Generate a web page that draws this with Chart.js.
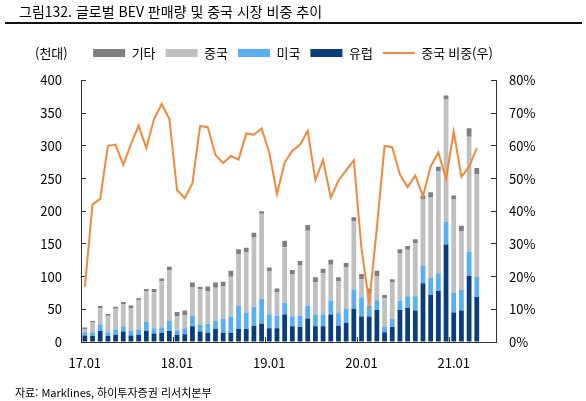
<!DOCTYPE html>
<html lang="ko">
<head>
<meta charset="utf-8">
<title>글로벌 BEV 판매량 및 중국 시장 비중 추이</title>
<script src="https://cdn.jsdelivr.net/npm/chart.js@4"></script>
<style>
  html, body { margin: 0; padding: 0; background: #fff; }
  body { font-family: 'Noto Sans CJK KR', sans-serif; color: #000; }
  #wrap { position: relative; width: 586px; height: 401px; overflow: hidden; }
  #chart { position: absolute; left: 0; top: 0; }
  .title { position: absolute; left: 19px; top: 3px; font-size: 14px; line-height: 17px; }
  .rule { position: absolute; left: 5px; top: 22px; width: 577px; height: 2px; background: #111; }
  .unit { position: absolute; left: 35px; top: 45px; font-size: 13px; line-height: 16px; }
  .source { position: absolute; left: 15px; top: 385px; font-size: 11px; line-height: 14px; }
</style>
</head>
<body>
<div id="wrap">
  <canvas id="chart" width="586" height="401"></canvas>
  <div class="title">그림132. 글로벌 BEV 판매량 및 중국 시장 비중 추이</div>
  <div class="rule"></div>
  <div class="unit">(천대)</div>
  <div class="source">자료: Marklines, 하이투자증권 리서치본부</div>
</div>
<script>
// months 17.01 ~ 21.06 (last two months have no data yet)
const months = [
  '17.01','17.02','17.03','17.04','17.05','17.06','17.07','17.08','17.09','17.10','17.11','17.12',
  '18.01','18.02','18.03','18.04','18.05','18.06','18.07','18.08','18.09','18.10','18.11','18.12',
  '19.01','19.02','19.03','19.04','19.05','19.06','19.07','19.08','19.09','19.10','19.11','19.12',
  '20.01','20.02','20.03','20.04','20.05','20.06','20.07','20.08','20.09','20.10','20.11','20.12',
  '21.01','21.02','21.03','21.04','21.05','21.06'
]

// BEV sales, thousand units
const europe = [
  10, 9, 17, 9, 11, 16, 10, 11, 17, 13, 14, 17,
  11, 12, 24, 16, 14, 20, 14, 14, 20, 20, 25, 28,
  21, 21, 42, 24, 23, 36, 24, 24, 42, 25, 29, 51,
  39, 39, 49, 15, 23, 49, 52, 48, 90, 72, 78, 149,
  45, 48, 101, 69
]
const usa = [
  5, 6, 10, 6, 8, 8, 7, 8, 14, 8, 8, 15,
  7, 9, 16, 10, 14, 12, 21, 25, 35, 25, 29, 38,
  21, 19, 18, 15, 17, 19, 18, 18, 21, 19, 22, 29,
  29, 17, 15, 8, 12, 14, 18, 22, 27, 26, 27, 35,
  30, 32, 37, 31
]
const china = [
  4, 15, 25, 25, 32, 34, 35, 45, 47, 55, 71, 78,
  21, 20, 44, 55, 50, 51, 50, 61, 79, 92, 106, 130,
  66, 36, 85, 65, 77, 115, 49, 63, 55, 49, 63, 105,
  28, 18, 37, 44, 56, 73, 71, 81, 101, 123, 156, 187,
  143, 89, 176, 157
]
const others = [
  3, 2, 3, 3, 3, 3, 4, 3, 3, 5, 4, 5,
  7, 7, 7, 3, 7, 8, 7, 9, 8, 7, 7, 4,
  6, 6, 10, 6, 7, 9, 8, 7, 8, 6, 7, 6,
  8, 8, 8, 5, 5, 6, 6, 6, 6, 8, 7, 6,
  6, 9, 13, 9
]
// China share, % (right axis)
const chinaShare = [
  16.9, 42.1, 43.8, 60.0, 60.4, 54.2, 60.5, 66.2, 59.3, 68.2, 72.8, 68.2,
  46.5, 44.0, 48.6, 66.1, 65.7, 57.2, 54.7, 56.9, 55.8, 63.8, 63.4, 65.3,
  57.9, 45.3, 54.9, 58.5, 60.3, 64.6, 49.5, 55.7, 44.2, 49.4, 52.5, 55.6,
  28.5, 12.0, 35.0, 60.0, 59.6, 51.2, 47.4, 50.9, 44.6, 53.7, 58.0, 49.9,
  64.4, 50.5, 53.6, 59.3
]

const leftTicks = [0, 50, 100, 150, 200, 250, 300, 350, 400]
const rightTicks = [0, 10, 20, 30, 40, 50, 60, 70, 80]
const legendOrder = ['기타', '중국', '미국', '유럽', '중국 비중(우)']

const axisColor = '#333'
Chart.defaults.font.family = "'Noto Sans CJK KR', sans-serif"
Chart.defaults.font.size = 13
Chart.defaults.color = '#000'

// push the plot area down a bit below the legend row
const legendGap = {
  id: 'legendGap',
  beforeInit(chart) {
    const fit = chart.legend.fit
    chart.legend.fit = function () {
      fit.bind(chart.legend)()
      this.height += 11
    }
  }
}

const barSet = (label, data, color) => ({
  type: 'bar',
  label: label,
  data: data,
  backgroundColor: color,
  borderWidth: 0,
  yAxisID: 'y',
  stack: 'sales',
  categoryPercentage: 1,
  barPercentage: 0.62
})

const ctx = document.getElementById('chart')
const chart = new Chart(ctx, {
  data: {
    labels: months,
    datasets: [
      {
        type: 'line',
        label: '중국 비중(우)',
        data: chinaShare,
        borderColor: '#f08a3a',
        backgroundColor: '#f08a3a',
        borderWidth: 2,
        pointRadius: 0,
        tension: 0,
        yAxisID: 'y1',
        order: -1
      },
      barSet('유럽', europe, '#0a3d7b'),
      barSet('미국', usa, '#5aaff0'),
      barSet('중국', china, '#c0c0c0'),
      barSet('기타', others, '#7f7f7f')
    ]
  },
  options: {
    responsive: false,
    animation: false,
    layout: {padding: {left: 0, right: 0, top: 36.5, bottom: 29}},
    plugins: {
      tooltip: {enabled: false},
      legend: {
        position: 'top',
        labels: {
          usePointStyle: true,
          pointStyleWidth: 32,
          boxHeight: 8,
          padding: 10,
          font: {size: 13},
          sort: (a, b) => legendOrder.indexOf(a.text) - legendOrder.indexOf(b.text),
          generateLabels(chart) {
            const items = Chart.defaults.plugins.legend.labels.generateLabels(chart)
            items.forEach(item => {
              const ds = chart.data.datasets[item.datasetIndex]
              if (ds.type === 'line') {
                item.pointStyle = 'line'
                item.lineWidth = 2
              } else {
                item.pointStyle = 'rect'
                item.lineWidth = 0
              }
            })
            return items
          }
        }
      }
    },
    scales: {
      x: {
        stacked: true,
        offset: true,
        border: {color: axisColor, width: 1},
        grid: {
          display: true,
          drawOnChartArea: false,
          offset: true,
          tickLength: -5,
          tickColor: c => (c.index % 12 === 0 ? axisColor : 'rgba(0,0,0,0)')
        },
        ticks: {
          autoSkip: false,
          maxRotation: 0,
          padding: 18,
          callback: (v, i) => (i % 12 === 0 ? months[i] : '')
        },
        afterFit(s) { s.height = 30 }
      },
      y: {
        stacked: true,
        position: 'left',
        min: 0,
        max: 400,
        border: {color: axisColor, width: 1},
        grid: {drawOnChartArea: false, tickLength: -5, tickColor: axisColor},
        ticks: {stepSize: 50, padding: 24},
        afterBuildTicks(s) { s.ticks = leftTicks.map(v => ({value: v})) },
        afterFit(s) { s.width = 81 }
      },
      y1: {
        position: 'right',
        min: 0,
        max: 80,
        border: {color: axisColor, width: 1},
        grid: {drawOnChartArea: false, tickLength: -5, tickColor: axisColor},
        ticks: {stepSize: 10, padding: 18, callback: v => v + '%'},
        afterBuildTicks(s) { s.ticks = rightTicks.map(v => ({value: v})) },
        afterFit(s) { s.width = 90 }
      }
    }
  },
  plugins: [legendGap]
})
</script>
</body>
</html>
